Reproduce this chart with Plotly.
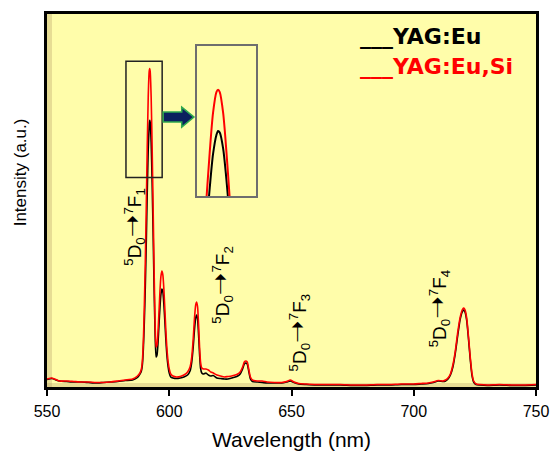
import plotly.graph_objects as go

# Emission spectra of Eu-doped YAG, with and without Si co-doping
wavelength_nm = [
    550, 552, 555, 558, 561, 564, 567, 570, 573, 576, 579, 582, 585, 587, 588, 588.6,
    589, 589.4, 589.8, 590.2, 590.6, 591, 591.4, 591.8, 592, 592.2, 592.6, 593, 593.4,
    593.8, 594.2, 594.6, 595, 595.4, 595.8, 596.2, 596.6, 597, 597.4, 597.8, 598.2,
    598.6, 599, 599.5, 600, 600.6, 601.5,
    603, 604.5, 606, 607.5, 608.5, 609.2, 609.8, 610.3, 610.8, 611.2, 611.6, 612,
    612.4, 612.8, 613.3, 614, 615, 616, 617, 618, 619.5, 621, 622.5, 624, 625.5, 627,
    628, 629, 630, 630.7, 631.3, 631.9, 632.5, 633.2, 634,
    636, 638, 640, 643, 646, 648, 649.5, 651, 653, 656, 660, 665, 670, 675, 680, 685,
    690, 695, 700, 703, 706, 708, 710, 712,
    713, 714, 715, 716, 717, 718, 719, 720, 720.5, 721, 721.7, 722.4, 723.1, 723.8,
    724.5, 725.5, 727, 730, 735, 740, 745, 750,
]

yag_eu = [
    7.5, 8.5, 6, 5.5, 5, 5, 4.5, 4, 4.5, 5, 5.5, 6.5, 7, 9.5, 13, 16,
    22, 38, 65, 100, 145, 195, 238, 262, 267, 265, 245, 205, 155,
    100, 55, 30, 32, 44, 62, 80, 93, 98, 95, 83, 66,
    48, 33, 21, 14, 10, 9,
    8.5, 9, 10, 12, 16, 25, 40, 57, 69, 72, 68, 52,
    33, 19, 14, 13, 14, 12, 11, 11.5, 9, 8.5, 8, 8, 9, 10,
    11, 13, 18, 23, 24, 23, 16, 8, 5.5,
    5, 4.5, 4, 4, 4, 5, 6, 4.5, 3, 2.5, 2, 2, 2, 1.5, 1.5, 2,
    2, 2.5, 2.5, 3, 3.5, 4.5, 6, 5.5,
    6, 8, 12, 20, 34, 52, 68, 76, 77, 75, 66, 48, 28, 12,
    5, 2.5, 2, 1.5, 2, 1.5, 1.5, 2,
]

yag_eu_si = [
    8, 9, 6, 6, 5.5, 5, 5, 4.5, 4.5, 5, 6, 7, 8, 11, 14, 18,
    26, 45, 80, 125, 180, 240, 290, 316, 319, 316, 290, 240, 180,
    118, 65, 40, 42, 55, 75, 96, 111, 116, 112, 98, 78,
    57, 40, 26, 18, 13, 11,
    10, 10.5, 12, 15, 20, 30, 48, 68, 82, 85, 80, 62,
    40, 25, 19, 18, 18, 17, 15, 14, 12, 11, 10, 10.5, 11, 12,
    13, 15, 20, 25, 26, 25, 18, 10, 7,
    6, 6, 5, 4.5, 4.5, 5.5, 7, 5, 3.5, 3, 2.5, 2.5, 2.5, 2, 2, 2.5,
    2.5, 3, 3, 3.5, 4, 5, 6.5, 6,
    7, 9, 13, 22, 36, 55, 70, 78, 79, 77, 68, 50, 30, 14,
    6, 3, 2.5, 2, 2.5, 2, 2, 2.5,
]

assert len(wavelength_nm) == len(yag_eu) == len(yag_eu_si)

x_ticks = [550, 600, 650, 700, 750]

ARROW = "<span style='font-family:DejaVu Sans;font-size:27px'>➝</span>"

# Eu3+ transitions: (label, wavelength, intensity) for label placement
transitions = [
    (f"<sup>5</sup>D<sub>0</sub>{ARROW}<sup>7</sup>F<sub>1</sub>", 585.0, 160),
    (f"<sup>5</sup>D<sub>0</sub>{ARROW}<sup>7</sup>F<sub>2</sub>", 621.0, 102),
    (f"<sup>5</sup>D<sub>0</sub>{ARROW}<sup>7</sup>F<sub>3</sub>", 652.4, 55),
    (f"<sup>5</sup>D<sub>0</sub>{ARROW}<sup>7</sup>F<sub>4</sub>", 709.6, 79),
]

W, H = 554, 455
ML, MR, MT, MB = 47, 17.5, 13.5, 68
PW, PH = W - ML - MR, H - MT - MB


def px(x, y):
    """Page pixel position -> paper coordinates."""
    return (x - ML) / PW, (H - MB - y) / PH


BG = "#FFFDAA"
FONT = "Liberation Sans, Arial, sans-serif"

fig = go.Figure()

# main spectra
fig.add_trace(go.Scatter(x=wavelength_nm, y=yag_eu, mode="lines",
                         line=dict(color="black", width=1.6, shape="spline", smoothing=0.5),
                         showlegend=False, hoverinfo="skip"))
fig.add_trace(go.Scatter(x=wavelength_nm, y=yag_eu_si, mode="lines",
                         line=dict(color="#FF0000", width=1.6, shape="spline", smoothing=0.5),
                         showlegend=False, hoverinfo="skip"))

# magnified view of the 5D0-7F1 maximum
fig.add_trace(go.Scatter(x=wavelength_nm, y=yag_eu, mode="lines", xaxis="x2", yaxis="y2",
                         line=dict(color="black", width=2, shape="spline", smoothing=0.8),
                         showlegend=False, hoverinfo="skip"))
fig.add_trace(go.Scatter(x=wavelength_nm, y=yag_eu_si, mode="lines", xaxis="x2", yaxis="y2",
                         line=dict(color="#FF0000", width=2, shape="spline", smoothing=0.8),
                         showlegend=False, hoverinfo="skip"))

ix0, iy1 = px(197.3, 45.7)
ix1, iy0 = px(256, 195.7)

shapes = [
    # soft inner shading along the left and bottom edges of the frame
    dict(type="rect", xref="paper", yref="paper", x0=0, x1=5 / PW, y0=0, y1=1,
         fillcolor="rgba(175,150,100,0.30)", line=dict(width=0), layer="below"),
    dict(type="rect", xref="paper", yref="paper", x0=0, x1=1, y0=0, y1=4 / PH,
         fillcolor="rgba(175,150,100,0.30)", line=dict(width=0), layer="below"),
    # box around the main peak
    dict(type="rect", xref="x", yref="y", x0=582.3, x1=597.1, y0=209.7, y1=326.3,
         line=dict(color="#222222", width=1.5)),
    # block arrow pointing to the magnified view
    dict(type="path", xref="x", yref="y",
         path="M 597.5,275.3 L 605.1,275.3 L 605.1,280.3 L 610.1,270.3 "
              "L 605.1,260.3 L 605.1,265.3 L 597.5,265.3 Z",
         fillcolor="#0B1F5E", line=dict(color="#2FA84F", width=1.5)),
]

annotations = []
for text, xw, yi in transitions:
    annotations.append(dict(x=xw, y=yi, xref="x", yref="y", text=text, textangle=-90,
                            showarrow=False, font=dict(family=FONT, size=19, color="black"),
                            xanchor="center", yanchor="middle"))

lx, ly = px(20, 172)
annotations.append(dict(x=lx, y=ly, xref="paper", yref="paper", text="Intensity (a.u.)",
                        textangle=-90, showarrow=False,
                        font=dict(family=FONT, size=17, color="black"),
                        xanchor="center", yanchor="middle"))

for text, color, ypx in [("___YAG:Eu", "black", 36), ("___YAG:Eu,Si", "#FF0000", 66)]:
    ax, ay = px(358, ypx)
    annotations.append(dict(x=ax, y=ay, xref="paper", yref="paper", text=f"<b>{text}</b>",
                            showarrow=False, xanchor="left", yanchor="middle",
                            font=dict(family="DejaVu Sans, Verdana, sans-serif", size=22,
                                      color=color)))

fig.update_layout(
    width=W, height=H, autosize=False,
    margin=dict(l=ML, r=MR, t=MT, b=MB, pad=0),
    paper_bgcolor="white", plot_bgcolor=BG,
    font=dict(family=FONT, color="black"),
    xaxis=dict(range=[550, 750], tickvals=x_ticks, ticks="outside", ticklen=6,
               tickwidth=1.5, tickcolor="black", showline=True, mirror=True,
               linewidth=3, linecolor="black", showgrid=False, zeroline=False,
               automargin=False, ticklabelstandoff=2,
               tickfont=dict(size=16, family=FONT),
               title=dict(text="Wavelength (nm)", font=dict(size=21, family=FONT),
                          standoff=14)),
    yaxis=dict(range=[0, PH], showticklabels=False, ticks="", showline=True,
               mirror=True, linewidth=3, linecolor="black", showgrid=False,
               zeroline=False, automargin=False),
    xaxis2=dict(domain=[ix0, ix1], anchor="y2", range=[589.5, 596.5], showline=True,
                mirror=True, linewidth=1.5, linecolor="#6E6E6E", showgrid=False,
                zeroline=False, showticklabels=False, ticks="", automargin=False),
    yaxis2=dict(domain=[iy0, iy1], anchor="x2", range=[185, 374], showline=True,
                mirror=True, linewidth=1.5, linecolor="#6E6E6E", showgrid=False,
                zeroline=False, showticklabels=False, ticks="", automargin=False),
    shapes=shapes,
    annotations=annotations,
)

fig.write_html("out.html")
